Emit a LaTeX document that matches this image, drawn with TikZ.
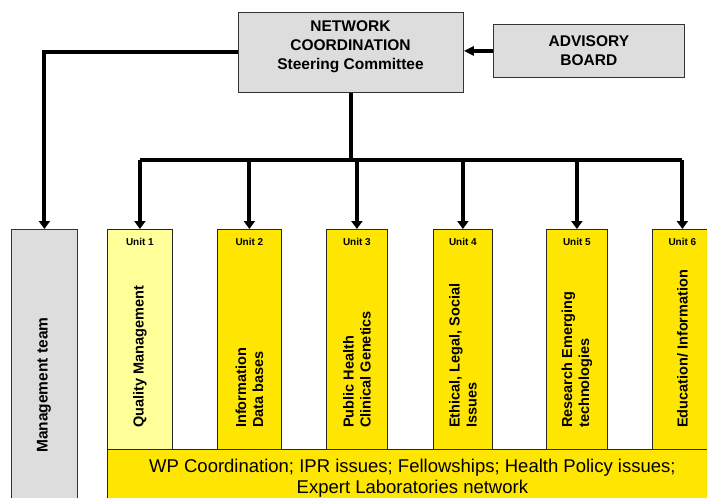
\documentclass[tikz,border=0pt]{standalone}
\usepackage{fontspec}
\setmainfont{Liberation Sans}
\usetikzlibrary{arrows.meta}
\definecolor{boxgray}{RGB}{221,221,221}
\definecolor{lightyel}{RGB}{255,255,153}
\definecolor{yel}{RGB}{255,230,0}
\tikzset{
  graybox/.style={draw=black!80, line width=0.8pt, fill=boxgray, inner sep=0pt},
  unitbox/.style={draw=black!85, line width=0.8pt, fill=yel, inner sep=0pt, anchor=north west, minimum height=220pt},
  headtxt/.style={font=\fontsize{15.5}{19}\selectfont\bfseries, align=center, inner sep=0pt},
  unitlbl/.style={font=\fontsize{10}{12}\selectfont\bfseries, inner sep=0pt},
  rottxt/.style={font=\fontsize{14.5}{17}\selectfont\bfseries, rotate=90, anchor=west, align=left, inner sep=0pt},
  conn/.style={line width=4pt, draw=black},
  arr/.style={conn, -{Triangle[length=8pt,width=11pt]}},
}
\begin{document}
\begin{tikzpicture}[x=1pt,y=-1pt]
\useasboundingbox (0,0) rectangle (707,498);
\clip (0,0) rectangle (707,498);
\fill[white] (0,0) rectangle (707,498);

% top boxes
\node[graybox, anchor=north west, minimum width=225pt, minimum height=80pt] (net) at (238,12) {};
\node[headtxt] (nettxt) at (350.5,47) {NETWORK\\COORDINATION\\Steering Committee};
\node[graybox, anchor=north west, minimum width=191pt, minimum height=53pt, headtxt] (adv) at (493,24) {ADVISORY\\BOARD};

% management team
\node[graybox, anchor=north west, minimum width=66pt, minimum height=320pt] (mgmt) at (11,229) {};
\node[rottxt, font=\fontsize{15.5}{19}\selectfont\bfseries] (mgmttxt) at (44,453) {Management team};

% units
\node[unitbox, fill=lightyel, minimum width=65pt] (u1) at (107,229) {};
\node[unitbox, minimum width=64pt] (u2) at (217,229) {};
\node[unitbox, minimum width=61pt] (u3) at (326,229) {};
\node[unitbox, minimum width=59pt] (u4) at (433,229) {};
\node[unitbox, minimum width=61pt] (u5) at (546,229) {};
\node[unitbox, minimum width=60pt] (u6) at (652,229) {};

\foreach \i in {1,...,6}{
  \node[unitlbl] (lbl\i) at ([yshift=-13pt]u\i.north) {Unit \i};
}

\node[rottxt] (t1) at (u1.north |- 0,428) {Quality Management};
\node[rottxt] (t2) at (u2.north |- 0,428) {Information\\Data bases};
\node[rottxt] (t3) at (u3.north |- 0,428) {Public Health\\Clinical Genetics};
\node[rottxt] (t4) at (u4.north |- 0,428) {Ethical, Legal, Social\\Issues};
\node[rottxt] (t5) at (u5.north |- 0,428) {Research Emerging\\technologies};
\node[rottxt] (t6) at (u6.north |- 0,428) {Education/ Information};

% bottom bar
\node[draw=black!85, line width=0.8pt, fill=yel, anchor=north west, minimum width=610pt, minimum height=58pt, inner sep=0pt,
      font=\fontsize{18.5}{21.5}\selectfont, align=center] (wp) at (107,449)
  {WP Coordination; IPR issues; Fellowships; Health Policy issues;\\Expert Laboratories network};

% connectors
\draw[arr, -{Triangle[length=10pt,width=9pt]}] (adv.west) -- (adv.west -| net.east);
\draw[arr] (net.west) -- (net.west -| mgmt.north) -- (mgmt.north);
\coordinate (bus) at (net.south |- 0,160);
\draw[conn] (net.south) -- (bus);
\draw[conn] (u1.north |- bus) -- (u6.north |- bus);
\foreach \i in {1,...,6}{
  \draw[arr] (u\i.north |- bus) -- (u\i.north);
}
\end{tikzpicture}
\end{document}
